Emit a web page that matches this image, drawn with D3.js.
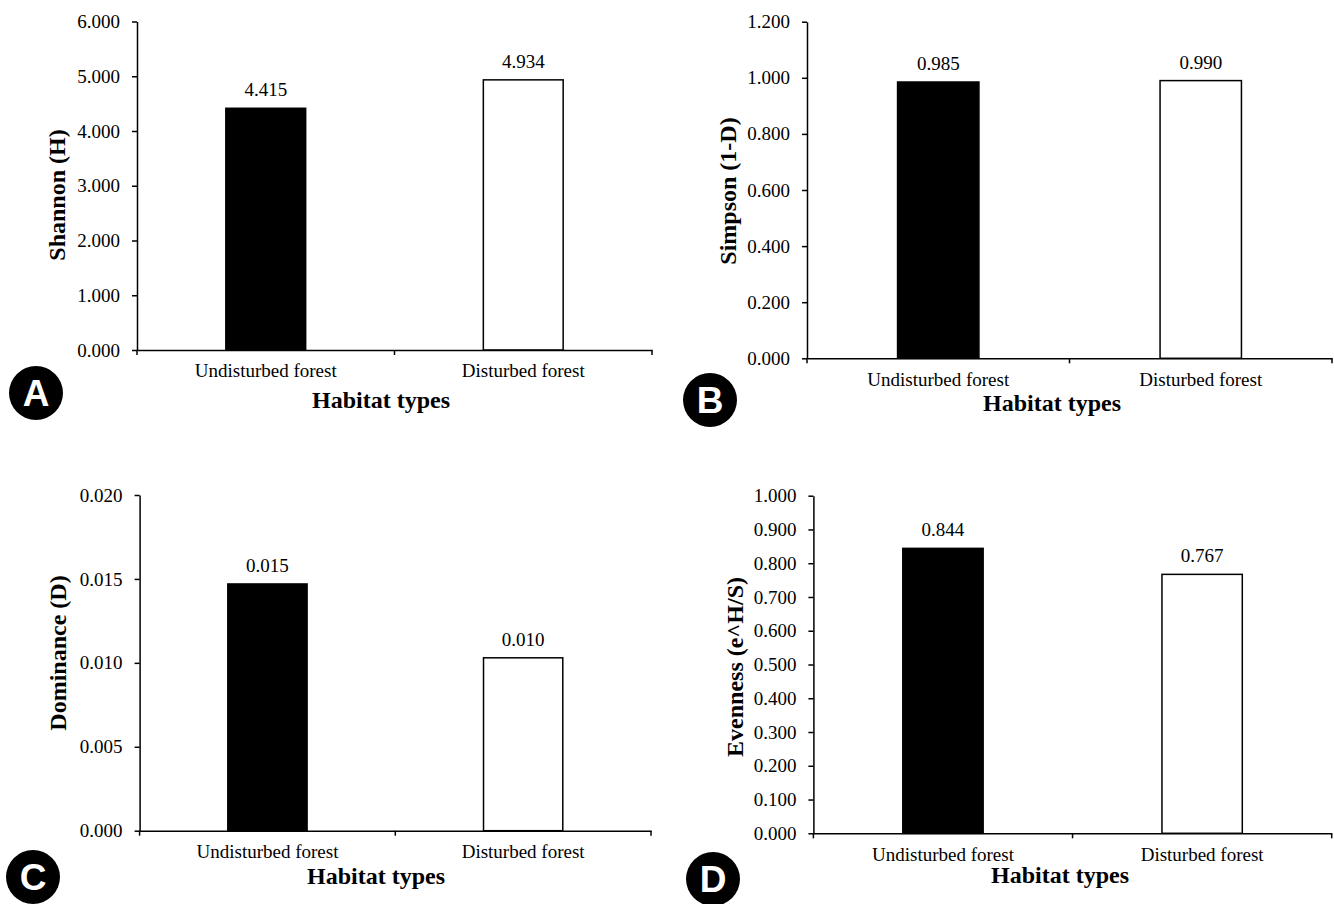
<!DOCTYPE html>
<html lang="en">
<head>
    <meta charset="UTF-8">
    <title>Diversity indices by habitat type</title>
    <style>
        body { margin: 0; background: #fff; }
        svg { display: block; }
        svg text.tick-label { font-family: "Liberation Serif", "Times New Roman", serif !important; font-size: 19px !important; fill: #000; }
        svg text.axis-title { font-family: "Liberation Serif", "Times New Roman", serif !important; font-size: 24px; font-weight: bold; fill: #000; }
        svg text.badge-letter { font-family: "Liberation Sans", Arial, sans-serif; font-size: 37px; font-weight: bold; fill: #fff; }
    </style>
</head>
<body>
    <svg id="chart" width="1334" height="904"></svg>

    <script src="https://d3js.org/d3.v7.min.js"></script>
    <script>
        // data
        var categories = ['Undisturbed forest', 'Disturbed forest'];
        var barFills = ['#000', '#fff'];

        var shannonValues = [4.415, 4.934];
        var simpsonValues = [0.985, 0.990];
        var dominanceValues = [0.0147, 0.0103];
        var evennessValues = [0.844, 0.767];

        var shannonTicks = [0, 1, 2, 3, 4, 5, 6];
        var simpsonTicks = [0, 0.2, 0.4, 0.6, 0.8, 1.0, 1.2];
        var dominanceTicks = [0, 0.005, 0.010, 0.015, 0.020];
        var evennessTicks = [0, 0.1, 0.2, 0.3, 0.4, 0.5, 0.6, 0.7, 0.8, 0.9, 1.0];

        var yTitles = ['Shannon (H)', 'Simpson (1-D)', 'Dominance (D)', 'Evenness (e^H/S)'];
        var xTitle = 'Habitat types';
        var badgeLetters = ['A', 'B', 'C', 'D'];

        // layout of each panel (pixel positions, not data)
        var panels = [
            { values: shannonValues, ticks: shannonTicks, x0: 137, x1: 652, yTop: 21.5, yBottom: 350,
              yTitleX: 57, yTitleY: 195, xTitleX: 381, xTitleY: 408, badge: [36, 393] },
            { values: simpsonValues, ticks: simpsonTicks, x0: 807, x1: 1332, yTop: 21.7, yBottom: 358.3,
              yTitleX: 728, yTitleY: 191, xTitleX: 1052, xTitleY: 411, badge: [710, 400] },
            { values: dominanceValues, ticks: dominanceTicks, x0: 139.6, x1: 651, yTop: 495, yBottom: 830.7,
              yTitleX: 58, yTitleY: 653, xTitleX: 376, xTitleY: 884, badge: [33, 877] },
            { values: evennessValues, ticks: evennessTicks, x0: 813.4, x1: 1331.7, yTop: 495.7, yBottom: 833.3,
              yTitleX: 735, yTitleY: 667, xTitleX: 1060, xTitleY: 883, badge: [713, 879] }
        ];

        var svg = d3.select('#chart');
        var fmt = function(d) { return d.toFixed(3); };

        panels.forEach(function(p, idx) {
            var g = svg.append('g');

            var x = d3.scaleBand()
                .domain(categories)
                .range([p.x0, p.x1]);

            var y = d3.scaleLinear()
                .domain([0, d3.max(p.ticks)])
                .range([p.yBottom, p.yTop]);

            var bw = x.bandwidth() * 0.31;

            // bars
            g.selectAll('rect.bar')
                .data(p.values)
                .enter()
                .append('rect')
                .attr('class', 'bar')
                .attr('x', function(d, i) { return x(categories[i]) + (x.bandwidth() - bw) / 2; })
                .attr('y', function(d) { return y(d); })
                .attr('width', bw)
                .attr('height', function(d) { return y(0) - y(d); })
                .attr('fill', function(d, i) { return barFills[i]; })
                .attr('stroke', '#000')
                .attr('stroke-width', 1.5);

            // value labels
            g.selectAll('text.value')
                .data(p.values)
                .enter()
                .append('text')
                .attr('class', 'tick-label')
                .attr('x', function(d, i) { return x(categories[i]) + x.bandwidth() / 2; })
                .attr('y', function(d) { return y(d) - 12; })
                .attr('text-anchor', 'middle')
                .text(fmt);

            // y axis
            var yAxis = g.append('g')
                .attr('transform', 'translate(' + p.x0 + ',0)')
                .call(d3.axisLeft(y).tickValues(p.ticks).tickFormat(fmt).tickSize(5).tickSizeOuter(0).tickPadding(12))
                .attr('font-family', null)
                .attr('font-size', null);
            yAxis.select('.domain').attr('stroke', '#000').attr('stroke-width', 1.5);
            yAxis.selectAll('.tick line').attr('stroke', '#000').attr('stroke-width', 1.5);
            yAxis.selectAll('.tick text').attr('class', 'tick-label');

            // x axis: labels centred in bands, ticks at band edges
            var xAxis = g.append('g')
                .attr('transform', 'translate(0,' + p.yBottom + ')')
                .call(d3.axisBottom(x).tickSize(0).tickSizeOuter(0).tickPadding(14))
                .attr('font-family', null)
                .attr('font-size', null);
            xAxis.select('.domain').attr('stroke', '#000').attr('stroke-width', 1.5);
            xAxis.selectAll('.tick text').attr('class', 'tick-label');

            var edges = categories.map(function(c) { return x(c); }).concat([x.range()[1]]);
            g.selectAll('line.edge')
                .data(edges)
                .enter()
                .append('line')
                .attr('x1', function(d) { return d; })
                .attr('x2', function(d) { return d; })
                .attr('y1', p.yBottom)
                .attr('y2', p.yBottom + 5)
                .attr('stroke', '#000')
                .attr('stroke-width', 1.5);

            // titles
            g.append('text')
                .attr('class', 'axis-title')
                .attr('transform', 'translate(' + p.yTitleX + ',' + p.yTitleY + ') rotate(-90)')
                .attr('dy', '0.35em')
                .attr('text-anchor', 'middle')
                .text(yTitles[idx]);

            g.append('text')
                .attr('class', 'axis-title')
                .attr('x', p.xTitleX)
                .attr('y', p.xTitleY)
                .attr('text-anchor', 'middle')
                .text(xTitle);

            // panel badge
            g.append('circle')
                .attr('cx', p.badge[0])
                .attr('cy', p.badge[1])
                .attr('r', 27)
                .attr('fill', '#000');

            g.append('text')
                .attr('class', 'badge-letter')
                .attr('x', p.badge[0])
                .attr('y', p.badge[1])
                .attr('dy', '0.36em')
                .attr('text-anchor', 'middle')
                .text(badgeLetters[idx]);
        });
    </script>
</body>
</html>
